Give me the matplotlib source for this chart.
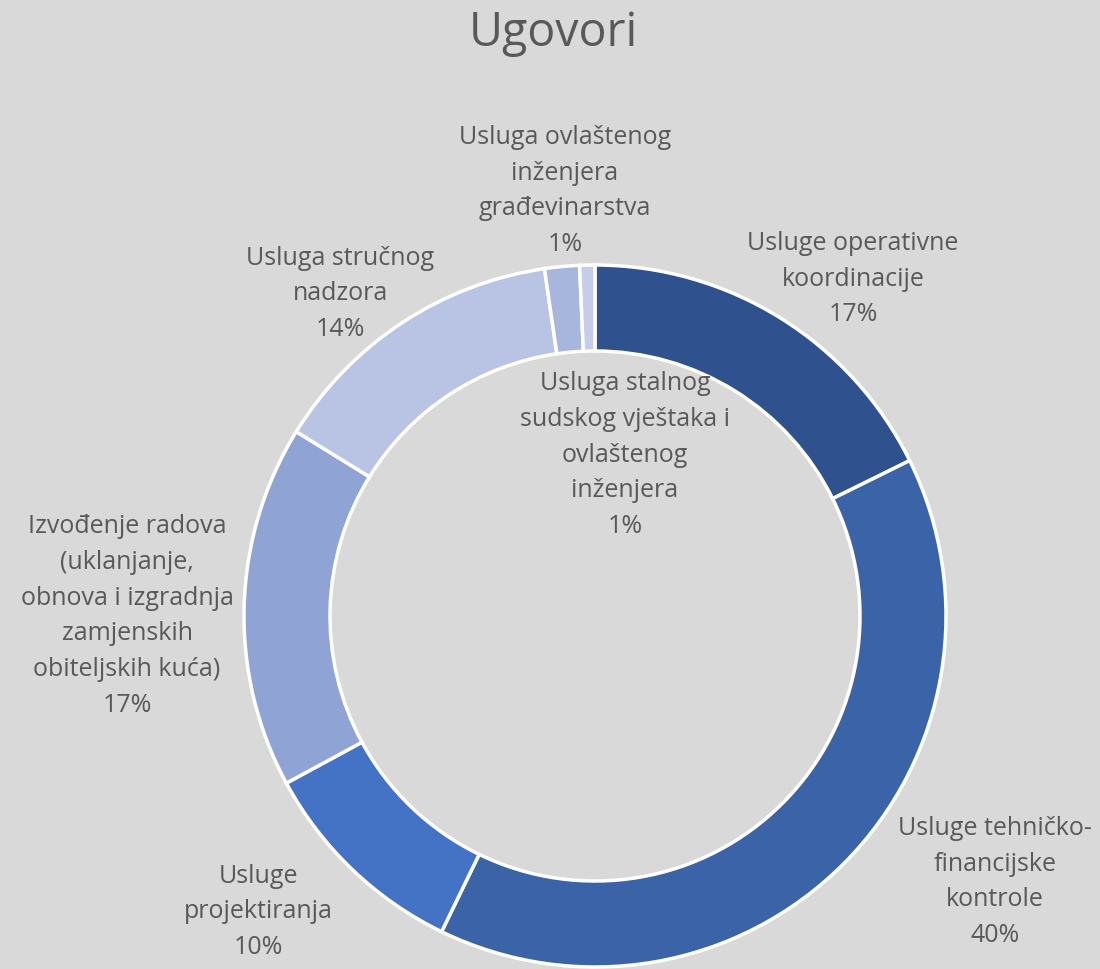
import matplotlib.pyplot as plt

plt.rcParams['font.family'] = ['Open Sans', 'DejaVu Sans']

# Ugovori - share of contracts by type (clockwise from top)
labels = [
    "Usluge operativne\nkoordinacije",
    "Usluge tehničko-\nfinancijske\nkontrole",
    "Usluge\nprojektiranja",
    "Izvođenje radova\n(uklanjanje,\nobnova i izgradnja\nzamjenskih\nobiteljskih kuća)",
    "Usluga stručnog\nnadzora",
    "Usluga ovlaštenog\ninženjera\ngrađevinarstva",
    "Usluga stalnog\nsudskog vještaka i\novlaštenog\ninženjera",
]
shares = [17.7, 39.5, 9.9, 16.7, 13.9, 1.6, 0.7]
pct_text = ["17%", "40%", "10%", "17%", "14%", "1%", "1%"]
colors = ["#2F528F", "#3A63A8", "#4472C4", "#8FA3D5", "#B9C3E3", "#A7B6DC", "#C5CDE8"]

# label anchor points (pixel space, y from top)
label_pos = [(853, 279), (995, 882), (258, 912), (127, 616), (340, 294), (565, 191), (625, 455)]

W, H = 1100, 970
bg = "#D9D9D9"
txt = "#595959"

fig = plt.figure(figsize=(W / 100, H / 100), dpi=100, facecolor=bg)
ax = fig.add_axes([0, 0, 1, 1])
ax.set_facecolor(bg)

cx, cy, r = 595, H - 617, 351
ax.pie(shares, colors=colors, startangle=90, counterclock=False,
       center=(cx, cy), radius=r, frame=True,
       wedgeprops=dict(width=r * 0.245, edgecolor='white', linewidth=2.5))
ax.set_xlim(0, W)
ax.set_ylim(0, H)
ax.set_aspect('equal')
ax.axis('off')

for lab, p, (x, y) in zip(labels, pct_text, label_pos):
    ax.text(x, H - y, lab + "\n" + p, ha='center', va='center',
            fontsize=18, color=txt, linespacing=1.57)

ax.text(553, H - 33, "Ugovori", ha='center', va='center', fontsize=33.5, color=txt)

fig.savefig("out.png", dpi=100, facecolor=bg)
